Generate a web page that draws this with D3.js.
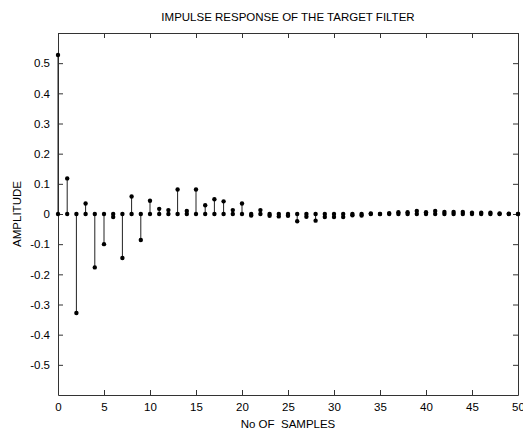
<!DOCTYPE html>
<html>
<head>
<meta charset="utf-8">
<script src="https://cdn.jsdelivr.net/npm/d3@7"></script>
<style>
  body { margin: 0; background: #fff; }
  text { font-family: "Liberation Sans", Arial, sans-serif; }
</style>
</head>
<body>
<script>
// impulse response values, one per sample n = 0..50
var samples = [0,1,2,3,4,5,6,7,8,9,10,11,12,13,14,15,16,17,18,19,20,
    21,22,23,24,25,26,27,28,29,30,31,32,33,34,35,36,37,38,39,40,
    41,42,43,44,45,46,47,48,49,50];
var amplitude = [0.527, 0.118, -0.328, 0.035, -0.177, -0.100, -0.010, -0.146, 0.058, -0.086, 0.044,
    0.017, 0.013, 0.081, 0.010, 0.081, 0.029, 0.049, 0.042, 0.013, 0.035,
    -0.005, 0.013, -0.006, -0.008, -0.006, -0.024, -0.009, -0.022, -0.010, -0.010,
    -0.010, -0.004, -0.005, 0.002, 0.000, 0.003, 0.006, 0.006, 0.010, 0.006,
    0.010, 0.007, 0.007, 0.007, 0.004, 0.004, 0.004, 0.002, 0.001, 0.000];
var xTicks = [0,5,10,15,20,25,30,35,40,45,50];
var yTicks = [-0.5,-0.4,-0.3,-0.2,-0.1,0,0.1,0.2,0.3,0.4,0.5];

var svgWidth = 523, svgHeight = 432;
var margin = {top: 33, right: 5, bottom: 37, left: 58};
var w = svgWidth - margin.left - margin.right,
    h = svgHeight - margin.top - margin.bottom;
var ink = '#333';

var svg = d3.select('body').append('svg')
    .attr('width', svgWidth)
    .attr('height', svgHeight);

var g = svg.append('g')
    .attr('transform', 'translate(' + margin.left + ',' + margin.top + ')');

var xScale = d3.scaleLinear().domain([0, 50]).range([0, w]);
var yScale = d3.scaleLinear().domain([-0.6, 0.6]).range([h, 0]);

var yFmt = function(d) { return d === 0 ? '0' : d.toFixed(1); };

// axes, ticks point inward like matlab
var axes = [
    {ax: d3.axisBottom(xScale).tickValues(xTicks).tickFormat(d3.format('d')), tr: [0, h]},
    {ax: d3.axisTop(xScale).tickValues(xTicks).tickFormat(''), tr: [0, 0]},
    {ax: d3.axisLeft(yScale).tickValues(yTicks).tickFormat(yFmt), tr: [0, 0]},
    {ax: d3.axisRight(yScale).tickValues(yTicks).tickFormat(''), tr: [w, 0]}
];
axes.forEach(function(a) {
    var ag = g.append('g')
        .attr('transform', 'translate(' + a.tr[0] + ',' + a.tr[1] + ')')
        .call(a.ax.tickSizeInner(-5).tickSizeOuter(0).tickPadding(8));
    ag.select('.domain').attr('stroke', ink);
    ag.selectAll('.tick line').attr('stroke', ink);
    ag.selectAll('.tick text').attr('fill', '#000').style('font-size', '11.5px');
});

var data = samples.map(function(n, i) { return {n: n, v: amplitude[i]}; });

// stems
g.selectAll('line.stem')
    .data(data)
    .enter().append('line')
    .attr('class', 'stem')
    .attr('x1', function(d) { return xScale(d.n); })
    .attr('x2', function(d) { return xScale(d.n); })
    .attr('y1', yScale(0))
    .attr('y2', function(d) { return yScale(d.v); })
    .attr('stroke', '#222')
    .attr('stroke-width', 1);

// dots at the base and at the tip
g.selectAll('circle.base')
    .data(data)
    .enter().append('circle')
    .attr('class', 'base')
    .attr('cx', function(d) { return xScale(d.n); })
    .attr('cy', yScale(0))
    .attr('r', 2.2)
    .attr('fill', '#000');

g.selectAll('circle.tip')
    .data(data)
    .enter().append('circle')
    .attr('class', 'tip')
    .attr('cx', function(d) { return xScale(d.n); })
    .attr('cy', function(d) { return yScale(d.v); })
    .attr('r', 2.2)
    .attr('fill', '#000');

// labels
svg.append('text')
    .attr('x', margin.left + w / 2)
    .attr('y', 21)
    .attr('text-anchor', 'middle')
    .style('font-size', '11.5px')
    .text('IMPULSE RESPONSE OF THE TARGET FILTER');

svg.append('text')
    .attr('x', margin.left + w / 2)
    .attr('y', 428)
    .attr('text-anchor', 'middle')
    .attr('xml:space', 'preserve')
    .style('white-space', 'pre')
    .style('font-size', '11.5px')
    .text('No OF  SAMPLES');

svg.append('text')
    .attr('transform', 'translate(21,' + (margin.top + h / 2) + ') rotate(-90)')
    .attr('text-anchor', 'middle')
    .style('font-size', '11.5px')
    .text('AMPLITUDE');
</script>
</body>
</html>
